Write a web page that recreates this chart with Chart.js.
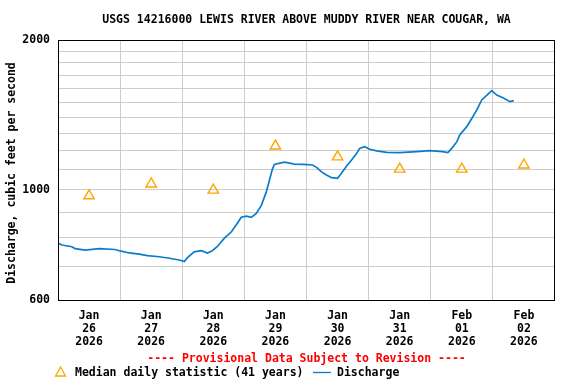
<!DOCTYPE html>
<html>
<head>
<meta charset="utf-8">
<script src="https://cdn.jsdelivr.net/npm/chart.js@4/dist/chart.umd.min.js"></script>
<style>
html,body{margin:0;padding:0;background:#fff;}
#wrap{width:576px;height:384px;position:relative;}
</style>
</head>
<body>
<div id="wrap"><canvas id="c" width="576" height="384"></canvas></div>
<script>
// ---- data (hours since Jan 26 2026 00:00) ----
const titleText = 'USGS 14216000 LEWIS RIVER ABOVE MUDDY RIVER NEAR COUGAR, WA';
const yAxisTitle = 'Discharge, cubic feet per second';
const provisionalText = '---- Provisional Data Subject to Revision ----';
const medianLabel = 'Median daily statistic (41 years)';
const dischargeLabel = 'Discharge';

const dischargeHours = [0,1.5,5.4,6.6,10.5,15.9,22,24,27.5,31.4,34.5,39.1,43,46.8,48.8,49.9,52.6,55.4,57.7,59.6,61.5,64.3,67,69.3,70.8,72.8,74.7,76.6,78.6,80.5,81.7,82.8,83.6,87.5,91.4,94.8,98.3,99.9,101.8,103.7,105.7,108,109.5,111.5,113.4,115.4,116.5,118.5,120.4,123.1,127,132,138.6,143.6,148.6,150.6,152.1,154.1,155.2,157.9,159.9,161.8,163.7,165.7,167.6,169.5,171.9,174.6,176.1];
const dischargeValues = [781,774,768,761,756,761,758,753,746,742,737,733,728,722,717,729,750,754,746,754,768,799,823,856,880,885,880,896,931,991,1046,1099,1124,1136,1126,1124,1121,1109,1086,1070,1057,1054,1079,1116,1147,1183,1211,1220,1206,1197,1189,1187,1193,1198,1193,1187,1211,1249,1288,1339,1392,1447,1515,1550,1582,1550,1531,1503,1510];

const medianHours = [12,36,60,84,108,132,156,180];
const medianValues = [972,1027,998,1224,1164,1100,1100,1121];

const dayTickHours = [12,36,60,84,108,132,156,180];
const dayTickLabels = [['Jan','26','2026'],['Jan','27','2026'],['Jan','28','2026'],['Jan','29','2026'],['Jan','30','2026'],['Jan','31','2026'],['Feb','01','2026'],['Feb','02','2026']];
const dayGridHours = [24,48,72,96,120,144,168];
const yGridValues = [600,700,800,900,1000,1100,1200,1300,1400,1500,1600,1700,1800,1900,2000];
const yLabelValues = [600,1000,2000];

const FONT = 'bold 11.5px "DejaVu Sans Mono", "Liberation Mono", monospace';
const LINE_COLOR = '#0a7ccc';
const MEDIAN_COLOR = '#ffa500';

const decor = {
  id:'decor',
  afterDatasetsDraw(chart){
    const ctx = chart.ctx, a = chart.chartArea;
    ctx.save();
    // frame
    ctx.strokeStyle = '#000'; ctx.lineWidth = 1;
    ctx.strokeRect(Math.round(a.left)+0.5, Math.round(a.top)+0.5, Math.round(a.right-a.left)-1, Math.round(a.bottom-a.top));
    const cx = (a.left + a.right)/2;
    ctx.font = FONT; ctx.textBaseline = 'middle';
    // title
    ctx.fillStyle = '#000'; ctx.textAlign = 'center';
    ctx.fillText(titleText, cx, 20);
    // y axis title
    ctx.save();
    ctx.translate(12, (a.top + a.bottom)/2 + 3);
    ctx.rotate(-Math.PI/2);
    ctx.fillText(yAxisTitle, 0, 0);
    ctx.restore();
    // provisional
    ctx.fillStyle = '#ff0000';
    ctx.fillText(provisionalText, cx, 359);
    // legend
    ctx.textAlign = 'left'; ctx.fillStyle = '#000';
    ctx.strokeStyle = MEDIAN_COLOR; ctx.lineWidth = 1.3;
    ctx.beginPath();
    ctx.moveTo(60.5, 367); ctx.lineTo(65.5, 376); ctx.lineTo(55.5, 376); ctx.closePath(); ctx.stroke();
    ctx.fillText(medianLabel, 75, 373);
    ctx.strokeStyle = LINE_COLOR; ctx.lineWidth = 1.3;
    ctx.beginPath(); ctx.moveTo(313, 372.5); ctx.lineTo(331, 372.5); ctx.stroke();
    ctx.fillText(dischargeLabel, 337, 373);
    ctx.restore();
  }
};

new Chart(document.getElementById('c'), {
  type:'line',
  data:{
    datasets:[
      {
        label: dischargeLabel,
        data: dischargeHours.map((h,i)=>({x:h, y:dischargeValues[i]})),
        borderColor: LINE_COLOR, borderWidth: 1.7, pointRadius: 0, tension: 0, fill:false
      },
      {
        label: medianLabel,
        data: medianHours.map((h,i)=>({x:h, y:medianValues[i]})),
        showLine:false, pointStyle:'triangle', pointRadius:6, pointHoverRadius:6,
        borderColor: MEDIAN_COLOR, backgroundColor:'rgba(0,0,0,0)', pointBorderWidth:1.4
      }
    ]
  },
  options:{
    responsive:false, animation:false,
    layout:{padding:{left:0, top:40, right:21, bottom:0}},
    plugins:{legend:{display:false}, tooltip:{enabled:false}, title:{display:false}},
    scales:{
      x:{
        type:'linear', min:0, max:192,
        afterBuildTicks(s){ s.ticks = dayGridHours.concat(dayTickHours).sort((p,q)=>p-q).map(v=>({value:v})); },
        afterFit(s){ s.height = 84; },
        border:{display:false},
        grid:{ drawTicks:false, lineWidth:1, color: c => (c.tick && c.tick.value % 24 === 0) ? '#cccccc' : 'rgba(0,0,0,0)' },
        ticks:{
          autoSkip:false, maxRotation:0, padding:10, color:'#000',
          font:{family:'"DejaVu Sans Mono", monospace', size:11.5, weight:'bold', lineHeight:1.13},
          callback: v => { const i = dayTickHours.indexOf(v); return i >= 0 ? dayTickLabels[i] : ''; }
        }
      },
      y:{
        type:'logarithmic', min:600, max:2000,
        afterBuildTicks(s){ s.ticks = yGridValues.map(v=>({value:v})); },
        afterFit(s){ s.width = 58; },
        border:{display:false},
        grid:{ drawTicks:false, lineWidth:1, color: c => (c.tick && (c.tick.value===600 || c.tick.value===2000)) ? 'rgba(0,0,0,0)' : '#cccccc' },
        ticks:{
          autoSkip:false, padding:8, color:'#000',
          font:{family:'"DejaVu Sans Mono", monospace', size:11.5, weight:'bold'},
          callback: v => yLabelValues.includes(v) ? String(v) : ''
        }
      }
    }
  },
  plugins:[decor]
});
</script>
</body>
</html>
